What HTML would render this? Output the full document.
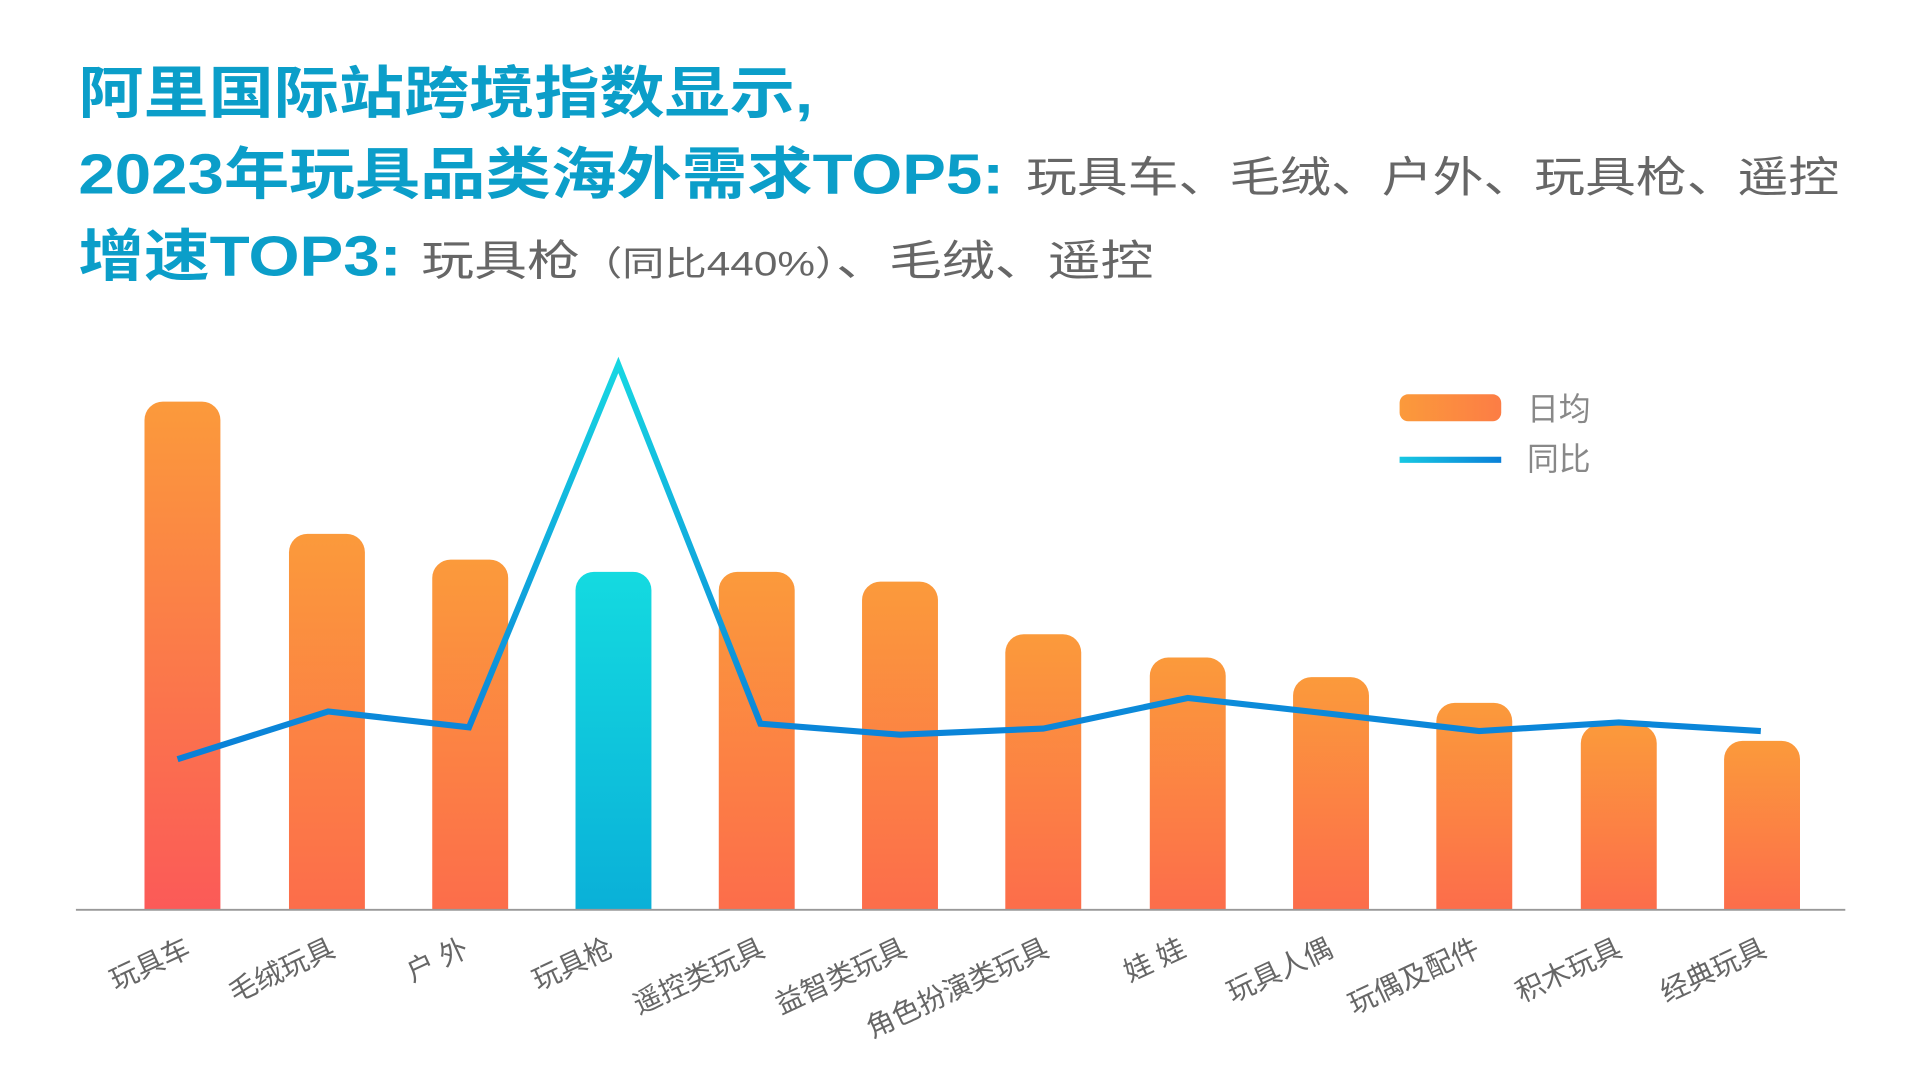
<!DOCTYPE html>
<html><head><meta charset="utf-8"><style>
html,body{margin:0;padding:0;background:#fff;width:1920px;height:1080px;overflow:hidden}
svg{display:block}
text{font-family:"Liberation Sans","Noto Sans CJK SC",sans-serif}
</style></head><body>
<svg width="1920" height="1080" viewBox="0 0 1568 882" preserveAspectRatio="none">
<defs>
<linearGradient id="ob" x1="0" y1="0" x2="0" y2="1"><stop offset="0" stop-color="#fb9a3b"/><stop offset="1" stop-color="#fc6d4b"/></linearGradient>
<linearGradient id="rb" x1="0" y1="0" x2="0" y2="1"><stop offset="0" stop-color="#fb9a3b"/><stop offset="1" stop-color="#fb5a58"/></linearGradient>
<linearGradient id="cb" x1="0" y1="0" x2="0" y2="1"><stop offset="0" stop-color="#14dae0"/><stop offset="1" stop-color="#0ab0d8"/></linearGradient>
<linearGradient id="ln" gradientUnits="userSpaceOnUse" x1="0" y1="298" x2="0" y2="620"><stop offset="0" stop-color="#17d6e2"/><stop offset="1" stop-color="#0a7fd8"/></linearGradient>
<linearGradient id="lg" x1="0" y1="0" x2="1" y2="0"><stop offset="0" stop-color="#17c8e2"/><stop offset="1" stop-color="#0a80d8"/></linearGradient>
<linearGradient id="lo" x1="0" y1="0" x2="1" y2="0"><stop offset="0" stop-color="#fb9a3b"/><stop offset="1" stop-color="#fc7d45"/></linearGradient>
</defs>
<g font-weight="bold" fill="#0b9ec9" font-size="46">
<text x="64" y="92" textLength="600" lengthAdjust="spacingAndGlyphs">阿里国际站跨境指数显示,</text>
<text x="64" y="158" textLength="756" lengthAdjust="spacingAndGlyphs">2023年玩具品类海外需求TOP5:</text>
<text x="64" y="225" textLength="264" lengthAdjust="spacingAndGlyphs">增速TOP3:</text>
</g>
<g fill="#666" font-size="35">
<text x="838" y="157" textLength="664" lengthAdjust="spacingAndGlyphs">玩具车、毛绒、户外、玩具枪、遥控</text>
<text x="344" y="225" textLength="598" lengthAdjust="spacingAndGlyphs">玩具枪<tspan font-size="28">（同比440%）</tspan>、毛绒、遥控</text>
</g>
<g>
<path d="M118,743V343a15,15 0 0 1 15,-15h32a15,15 0 0 1 15,15V743Z" fill="url(#rb)"/>
<path d="M236,743V451a15,15 0 0 1 15,-15h32a15,15 0 0 1 15,15V743Z" fill="url(#ob)"/>
<path d="M353,743V472a15,15 0 0 1 15,-15h32a15,15 0 0 1 15,15V743Z" fill="url(#ob)"/>
<path d="M470,743V482a15,15 0 0 1 15,-15h32a15,15 0 0 1 15,15V743Z" fill="url(#cb)"/>
<path d="M587,743V482a15,15 0 0 1 15,-15h32a15,15 0 0 1 15,15V743Z" fill="url(#ob)"/>
<path d="M704,743V490a15,15 0 0 1 15,-15h32a15,15 0 0 1 15,15V743Z" fill="url(#ob)"/>
<path d="M821,743V533a15,15 0 0 1 15,-15h32a15,15 0 0 1 15,15V743Z" fill="url(#ob)"/>
<path d="M939,743V552a15,15 0 0 1 15,-15h32a15,15 0 0 1 15,15V743Z" fill="url(#ob)"/>
<path d="M1056,743V568a15,15 0 0 1 15,-15h32a15,15 0 0 1 15,15V743Z" fill="url(#ob)"/>
<path d="M1173,743V589a15,15 0 0 1 15,-15h32a15,15 0 0 1 15,15V743Z" fill="url(#ob)"/>
<path d="M1291,743V607a15,15 0 0 1 15,-15h32a15,15 0 0 1 15,15V743Z" fill="url(#ob)"/>
<path d="M1408,743V620a15,15 0 0 1 15,-15h32a15,15 0 0 1 15,15V743Z" fill="url(#ob)"/>
</g>
<line x1="62" y1="743" x2="1507" y2="743" stroke="#999" stroke-width="1.5"/>
<polyline points="145,620 268,581 383,594 505,298 621,591 735,600 852,595 970,570 1087,583 1208,597 1322,590 1438,597" fill="none" stroke="url(#ln)" stroke-width="5" stroke-linejoin="miter"/>
<rect x="1143" y="322" width="83" height="22" rx="7" fill="url(#lo)"/>
<rect x="1143" y="373" width="83" height="5" fill="url(#lg)"/>
<text x="1247" y="343" font-size="26" fill="#888">日均</text>
<text x="1247" y="384" font-size="26" fill="#888">同比</text>
<g font-size="23" fill="#666" text-anchor="end">
<text transform="translate(157,780) rotate(-25)">玩具车</text>
<text transform="translate(275,780) rotate(-25)">毛绒玩具</text>
<text transform="translate(384,780) rotate(-25)">户 外</text>
<text transform="translate(502,780) rotate(-25)">玩具枪</text>
<text transform="translate(626,780) rotate(-25)">遥控类玩具</text>
<text transform="translate(742,780) rotate(-25)">益智类玩具</text>
<text transform="translate(858,780) rotate(-25)">角色扮演类玩具</text>
<text transform="translate(970,780) rotate(-25)">娃 娃</text>
<text transform="translate(1090,780) rotate(-25)">玩具人偶</text>
<text transform="translate(1210,780) rotate(-25)">玩偶及配件</text>
<text transform="translate(1326,780) rotate(-25)">积木玩具</text>
<text transform="translate(1444,780) rotate(-25)">经典玩具</text>
</g>
</svg>
</body></html>
